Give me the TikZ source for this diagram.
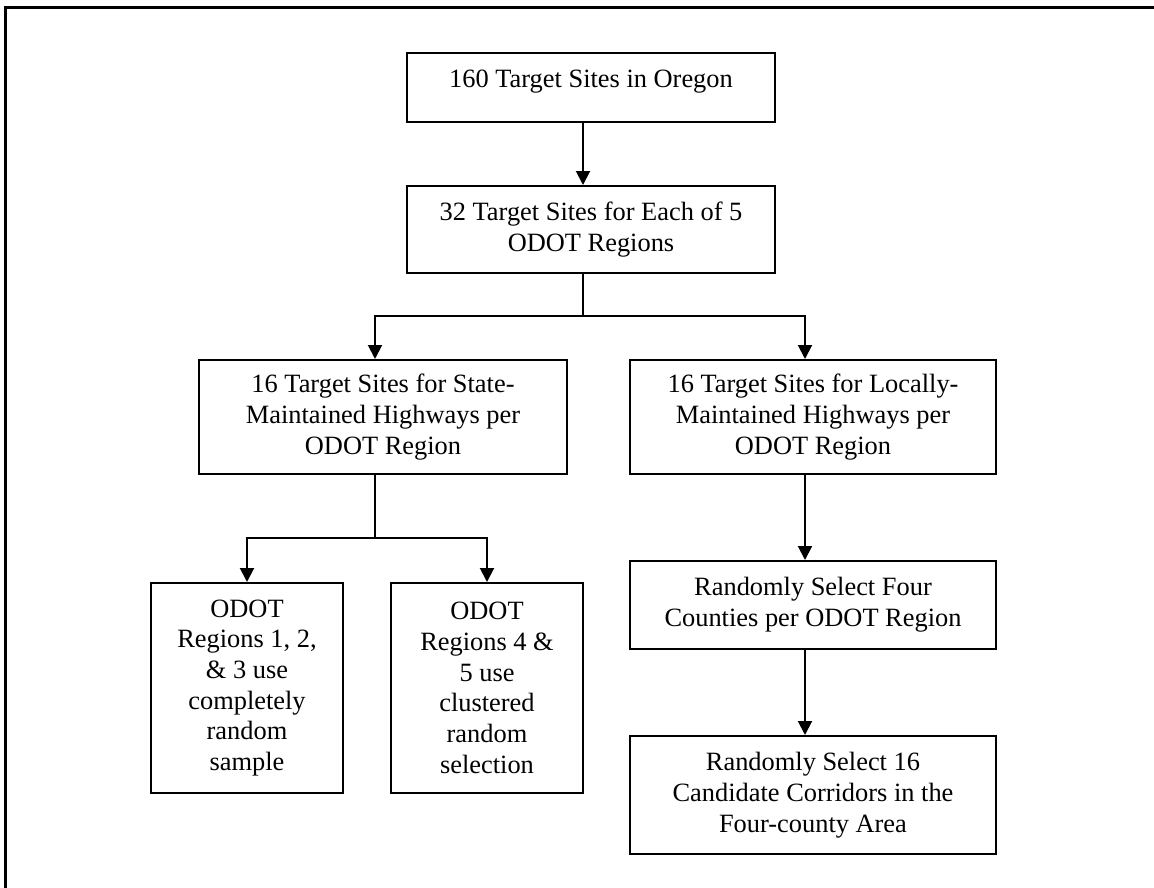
\documentclass[tikz,border=0pt]{standalone}
\usepackage{fontspec}
\setmainfont{Liberation Serif}
\usetikzlibrary{arrows.meta}
\tikzset{
  box/.style={draw, line width=2pt, align=center, inner sep=0pt,
    font=\fontsize{26.4}{30.7}\selectfont},
  txt/.style={align=center, inner sep=0pt, font=\fontsize{26.4}{30.7}\selectfont},
  conn/.style={line width=2pt},
  arr/.style={conn, -{Triangle[width=14pt,length=14pt]}},
  frame/.style={line width=3pt}
}
\begin{document}
\begin{tikzpicture}[x=1pt,y=-1pt]
\useasboundingbox (0,0) rectangle (1154,888);
% outer frame (top and left edges visible)
\coordinate (fa) at (5,888);
\coordinate (fb) at (5,8);
\coordinate (fc) at (1154,8);
\draw[frame] (fa) -- (fb) -- (fc);

\node[box, minimum width=368pt, minimum height=69pt] (b1) at (591,87.5) {};
\node[txt] (t1) at ([yshift=6pt]b1.center) {160 Target Sites in Oregon};
\node[box, minimum width=368pt, minimum height=87pt] (b2) at (591,229.5)
  {32 Target Sites for Each of 5\\ODOT Regions};
\node[box, minimum width=368pt, minimum height=114pt] (b3) at (383,417)
  {16 Target Sites for State-\\Maintained Highways per\\ODOT Region};
\node[box, minimum width=366pt, minimum height=114pt] (b4) at (813,417)
  {16 Target Sites for Locally-\\Maintained Highways per\\ODOT Region};
\node[box, minimum width=192pt, minimum height=210pt] (b5) at (247,688)
  {ODOT\\Regions 1, 2,\\\& 3 use\\completely\\random\\sample};
\node[box, minimum width=192pt, minimum height=210pt] (b6) at (487,688)
  {ODOT\\Regions 4 \&\\5 use\\clustered\\random\\selection};
\node[box, minimum width=366pt, minimum height=88pt] (b7) at (813,605)
  {Randomly Select Four\\Counties per ODOT Region};
\node[box, minimum width=366pt, minimum height=118pt] (b8) at (813,795)
  {Randomly Select 16\\Candidate Corridors in the\\Four-county Area};

% connectors
\draw[arr] ([xshift=-8pt]b1.south) -- ([xshift=-8pt]b2.north);
\coordinate (j1) at (583,316);
\draw[conn] ([xshift=-8pt]b2.south) -- (j1);
\draw[arr] (j1) -| ([xshift=-8pt]b3.north);
\draw[arr] (j1) -| ([xshift=-8pt]b4.north);
\coordinate (j2) at (375,538);
\draw[conn] ([xshift=-8pt]b3.south) -- (j2);
\draw[arr] (j2) -| (b5.north);
\draw[arr] (j2) -| (b6.north);
\draw[arr] ([xshift=-8pt]b4.south) -- ([xshift=-8pt]b7.north);
\draw[arr] ([xshift=-8pt]b7.south) -- ([xshift=-8pt]b8.north);
\end{tikzpicture}
\end{document}
